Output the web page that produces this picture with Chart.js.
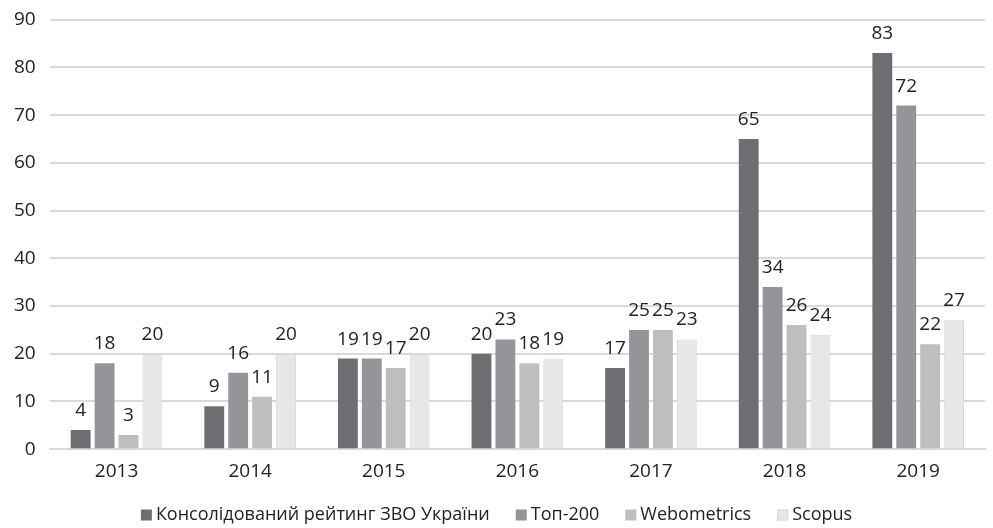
<!DOCTYPE html>
<html>
<head>
<meta charset="utf-8">
<script src="https://cdn.jsdelivr.net/npm/chart.js@4"></script>
<style>
  html, body { margin: 0; padding: 0; background: #fff; }
  #wrap { width: 993px; height: 528px; }
</style>
</head>
<body>
<div id="wrap"><canvas id="chart"></canvas></div>
<script>
// DATA
const years = ["2013", "2014", "2015", "2016", "2017", "2018", "2019"];
const consolidated = [4, 9, 19, 20, 17, 65, 83];
const top200 = [18, 16, 19, 23, 25, 34, 72];
const webometrics = [3, 11, 17, 18, 25, 26, 22];
const scopus = [20, 20, 20, 19, 23, 24, 27];
const yTicks = [0, 10, 20, 30, 40, 50, 60, 70, 80, 90];

const FONT = "'Open Sans', 'Noto Sans', sans-serif";

// value labels above bars
const valueLabels = {
  id: "valueLabels",
  afterDatasetsDraw(chart) {
    const ctx = chart.ctx;
    ctx.save();
    ctx.font = "19px " + FONT;
    ctx.fillStyle = "#222";
    ctx.textAlign = "center";
    ctx.textBaseline = "alphabetic";
    chart.data.datasets.forEach((ds, i) => {
      chart.getDatasetMeta(i).data.forEach((bar, j) => {
        ctx.fillText(String(ds.data[j]), bar.x, bar.y - 14);
      });
    });
    ctx.restore();
  }
};

// simple bottom legend (built-in one is hard to place exactly)
const bottomLegend = {
  id: "bottomLegend",
  afterDraw(chart) {
    const ctx = chart.ctx;
    const box = 11, gap = 4, spacing = 26, y = 515;
    ctx.save();
    ctx.font = "18px " + FONT;
    ctx.textBaseline = "middle";
    ctx.textAlign = "left";
    const items = chart.data.datasets.map(ds => ({
      ds, w: box + gap + ctx.measureText(ds.label).width
    }));
    const total = items.reduce((s, it) => s + it.w, 0) + spacing * (items.length - 1);
    let x = (chart.width - total) / 2;
    items.forEach(({ ds, w }) => {
      ctx.fillStyle = ds.backgroundColor;
      ctx.fillRect(x, y - box / 2, box, box);
      if (ds.borderWidth) {
        ctx.strokeStyle = ds.borderColor;
        ctx.lineWidth = 1;
        ctx.strokeRect(x + 0.5, y - box / 2 + 0.5, box - 1, box - 1);
      }
      ctx.fillStyle = "#222";
      ctx.fillText(ds.label, x + box + gap, y);
      x += w + spacing;
    });
    ctx.restore();
  }
};

const makeSet = (label, data, color, border) => ({
  label,
  data,
  backgroundColor: color,
  borderColor: border || color,
  borderWidth: border ? 1 : 0,
  categoryPercentage: 0.716,
  barPercentage: 0.83,
});

new Chart(document.getElementById("chart"), {
  type: "bar",
  data: {
    labels: years,
    datasets: [
      makeSet("Консолідований рейтинг ЗВО України", consolidated, "#6d6e71"),
      makeSet("Топ-200", top200, "#939598"),
      makeSet("Webometrics", webometrics, "#bcbec0"),
      makeSet("Scopus", scopus, "#e6e7e8", "#d6d7d8"),
    ],
  },
  plugins: [valueLabels, bottomLegend],
  options: {
    responsive: true,
    maintainAspectRatio: false,
    animation: false,
    layout: { padding: { top: 4, right: 8, left: 0, bottom: 34 } },
    plugins: {
      tooltip: { enabled: false },
      legend: { display: false },
    },
    scales: {
      x: {
        grid: { display: false, drawTicks: false },
        border: { color: "#d9d9d9", width: 2 },
        ticks: { font: { family: FONT, size: 19 }, color: "#222", padding: 11 },
      },
      y: {
        min: 0,
        max: 90,
        afterBuildTicks: (axis) => { axis.ticks = yTicks.map(v => ({ value: v })); },
        grid: { color: "#d9d9d9", lineWidth: 2, drawTicks: false },
        border: { display: false },
        ticks: { font: { family: FONT, size: 19, lineHeight: 0.6 }, color: "#222", padding: 14 },
      },
    },
  },
});
</script>
</body>
</html>
